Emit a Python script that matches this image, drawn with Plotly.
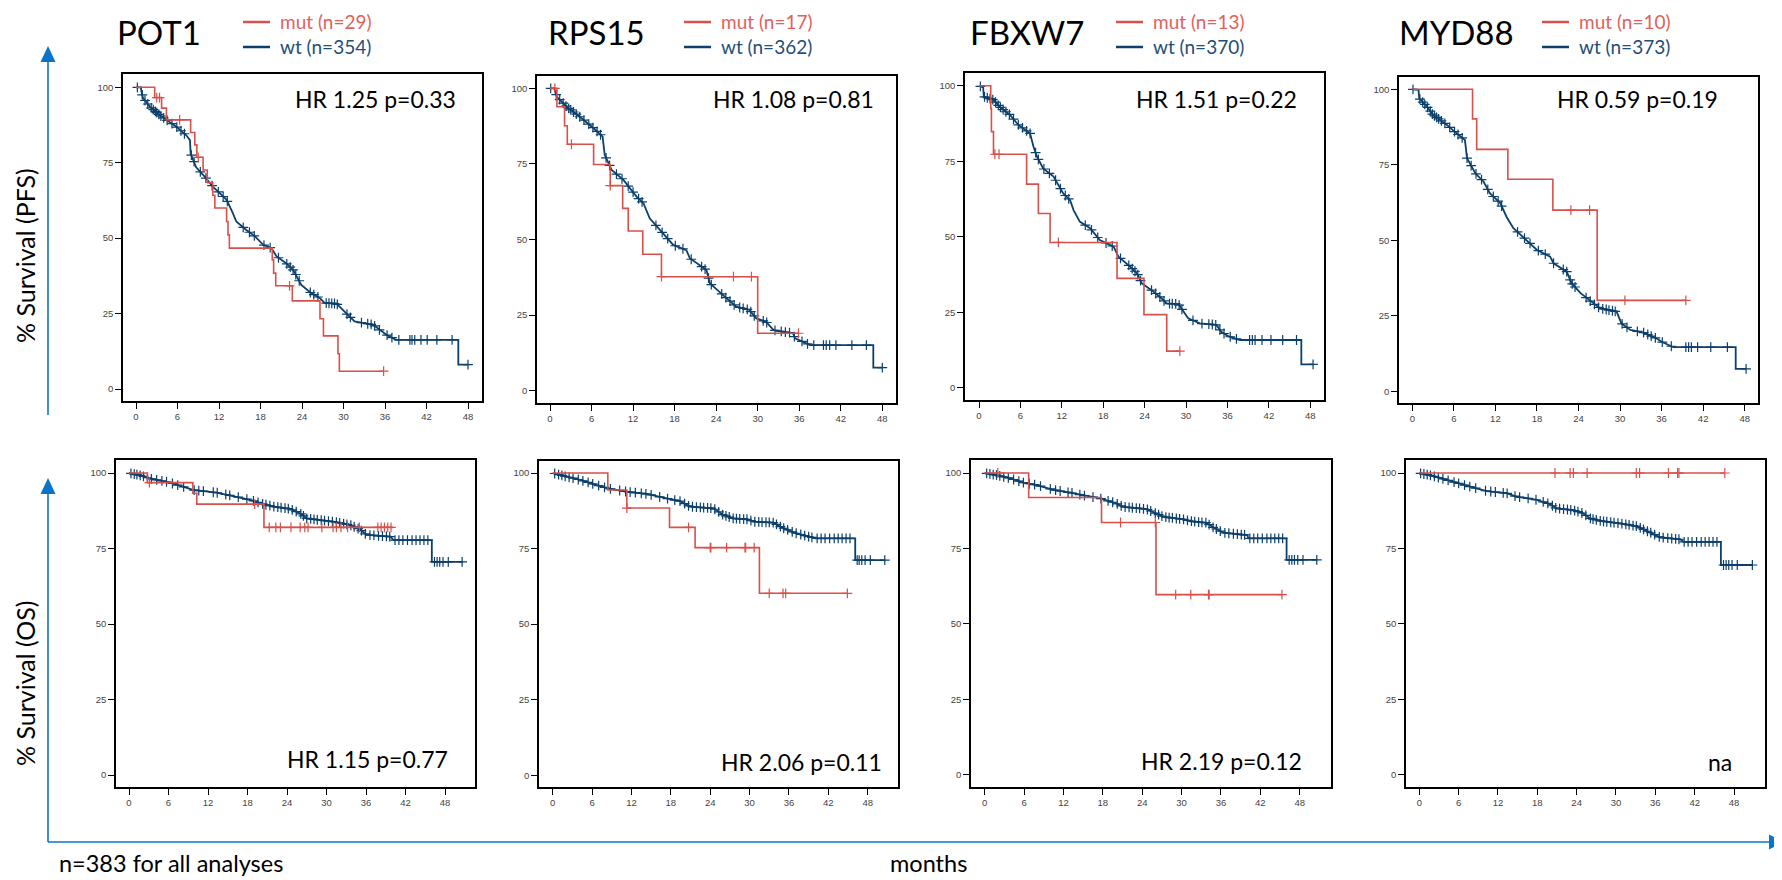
import numpy as np
import plotly.graph_objects as go

W, H = 1782, 880
OFF = 8  # page body margin of the browser
FW, FH = W - OFF, H - OFF

# ---------------- data ----------------
genes = ["POT1", "RPS15", "FBXW7", "MYD88"]
n_mut = [29, 17, 13, 10]
n_wt = [354, 362, 370, 373]
hr_pfs = ["HR 1.25 p=0.33", "HR 1.08 p=0.81", "HR 1.51 p=0.22", "HR 0.59 p=0.19"]
hr_os = ["HR 1.15 p=0.77", "HR 2.06 p=0.11", "HR 2.19 p=0.12", "na"]
x_ticks = [0, 6, 12, 18, 24, 30, 36, 42, 48]
y_ticks = [0, 25, 50, 75, 100]
y_label_pfs = "% Survival (PFS)"
y_label_os = "% Survival (OS)"
x_label = "months"
footnote = "n=383 for all analyses"

# ---- PFS: POT1 ----
pot1_pfs_mut_t = [0, 2.7, 3.7, 4.4, 7.9, 8.5, 8.8, 9.7, 10.3, 11.1, 11.4, 13.1, 13.3, 13.5, 19.7, 19.9, 20.2, 22.6, 26.6, 27.1, 29.2, 29.4, 35.8]
pot1_pfs_mut_s = [100, 96.6, 93.1, 89.2, 85.0, 80.9, 76.8, 72.6, 68.4, 64.2, 60.0, 55.5, 51.1, 46.7, 42.8, 38.4, 34.2, 29.2, 23.3, 17.6, 11.7, 5.9, 5.9]
pot1_pfs_mut_c = [3.0, 3.4, 6.3, 9.0, 22.2, 35.8]
pot1_pfs_wt_t = [0, 0.7, 0.8, 1.0, 2.0, 3.4, 4.4, 5.8, 7.3, 7.8, 7.9, 8.3, 8.7, 9.7, 11.1, 12.1, 13.1, 14.0, 14.5, 15.9, 17.2, 18.4, 19.6, 20.3, 21.7, 22.7, 23.4, 23.9, 25.3, 26.6, 27.3, 29.0, 29.9, 30.6, 31.6, 34.3, 35.2, 36.2, 37.6, 46.6, 46.6, 48.0]
pot1_pfs_wt_s = [100, 100, 98.5, 96.5, 93.6, 90.8, 89.2, 87.0, 84.0, 82.5, 78.0, 76.0, 73.5, 71.0, 67.1, 64.9, 62.7, 58.3, 55.5, 52.8, 50.6, 47.8, 46.7, 44.0, 41.7, 39.5, 36.8, 34.5, 31.8, 30.1, 28.5, 28.3, 26.2, 24.6, 22.4, 21.3, 19.6, 18.0, 16.3, 16.3, 8.1, 8.1]
pot1_pfs_wt_c = [0.2, 0.9, 1.3, 1.7, 2.2, 2.5, 2.8, 3.0, 3.3, 3.6, 4.0, 4.5, 5.2, 5.9, 6.5, 7.0, 8.0, 8.4, 9.3, 10.1, 11.0, 11.9, 12.6, 13.2, 15.5, 16.4, 17.1, 18.5, 19.4, 20.6, 21.8, 22.3, 22.7, 23.1, 23.6, 25.2, 25.7, 26.3, 27.5, 27.9, 28.3, 28.7, 29.1, 30.5, 31.0, 32.6, 33.5, 34.0, 34.5, 35.2, 36.3, 37.0, 38.0, 39.6, 39.9, 40.3, 41.2, 42.1, 43.5, 45.7, 48.0]

# ---- PFS: RPS15 ----
rps15_pfs_mut_t = [0, 1.0, 2.1, 2.5, 6.3, 8.7, 10.5, 11.3, 13.4, 16.1, 30.0, 35.9]
rps15_pfs_mut_s = [100, 93.9, 87.6, 81.5, 74.8, 67.8, 60.3, 52.8, 45.1, 37.7, 19.0, 19.0]
rps15_pfs_mut_c = [0.7, 3.1, 8.7, 16.1, 26.5, 29.1, 35.9]
rps15_pfs_wt_t = [0, 0.6, 1.0, 2.4, 4.3, 6.3, 7.6, 7.9, 8.9, 10.6, 12.5, 13.5, 14.4, 15.9, 17.8, 19.7, 20.2, 22.6, 23.1, 25.0, 26.9, 28.8, 29.8, 31.2, 32.3, 35.1, 35.4, 37.6, 46.7, 46.7, 48.0]
rps15_pfs_wt_s = [100, 100, 97.2, 93.9, 90.6, 86.8, 84.0, 78.0, 73.0, 69.7, 64.2, 62.0, 57.0, 53.1, 48.2, 46.5, 43.8, 39.9, 35.5, 31.6, 27.8, 26.7, 23.9, 22.8, 20.0, 19.0, 17.3, 15.1, 15.1, 7.6, 7.6]
rps15_pfs_wt_c = [0.1, 0.9, 1.4, 1.9, 2.3, 2.7, 3.0, 3.4, 3.8, 4.3, 4.9, 5.6, 6.2, 6.8, 7.3, 8.1, 8.6, 9.6, 10.4, 11.3, 12.0, 12.8, 13.3, 15.3, 16.2, 17.0, 18.1, 19.2, 20.4, 21.9, 22.4, 22.9, 23.3, 24.8, 25.4, 26.0, 26.6, 27.4, 27.9, 28.5, 29.0, 29.5, 30.8, 31.3, 32.5, 33.4, 34.0, 34.6, 35.3, 36.4, 37.2, 38.1, 39.5, 39.9, 40.4, 41.3, 43.6, 45.7, 48.0]

# ---- PFS: FBXW7 ----
fbxw7_pfs_mut_t = [0, 1.7, 1.8, 2.1, 6.9, 8.6, 10.3, 20.0, 23.9, 27.2, 29.1]
fbxw7_pfs_mut_s = [100, 92.5, 84.8, 77.3, 67.4, 57.7, 48.1, 36.2, 24.2, 12.1, 12.1]
fbxw7_pfs_mut_c = [2.3, 2.9, 11.5, 29.1]
fbxw7_pfs_wt_t = [0, 0.6, 0.7, 2.1, 3.0, 4.5, 5.7, 7.4, 7.9, 8.4, 9.3, 10.8, 12.2, 13.2, 13.7, 14.6, 16.1, 17.5, 19.5, 20.2, 21.9, 22.9, 23.6, 25.0, 26.2, 27.2, 28.9, 29.6, 30.3, 32.0, 34.4, 35.1, 36.1, 37.8, 46.7, 46.7, 48.4]
fbxw7_pfs_wt_s = [100, 99.4, 96.4, 95.3, 93.0, 90.3, 87.0, 84.2, 79.8, 76.5, 72.6, 69.9, 64.3, 62.1, 58.8, 55.0, 52.8, 48.9, 46.7, 43.4, 40.1, 37.9, 34.5, 32.3, 30.1, 27.9, 27.7, 25.2, 23.0, 21.3, 20.8, 18.5, 17.1, 15.8, 15.8, 7.7, 7.7]
fbxw7_pfs_wt_c = [0.2, 0.8, 1.2, 1.6, 2.0, 2.4, 2.8, 3.1, 3.5, 3.9, 4.4, 5.0, 5.7, 6.3, 6.9, 7.4, 8.2, 8.6, 9.4, 10.2, 11.1, 11.8, 12.5, 13.0, 15.4, 16.3, 17.2, 18.4, 19.3, 20.5, 21.7, 22.2, 22.6, 23.0, 23.4, 25.0, 25.6, 26.2, 26.8, 27.6, 28.0, 28.5, 29.0, 29.4, 31.0, 32.3, 33.3, 33.8, 34.3, 34.9, 35.5, 36.4, 37.3, 39.2, 39.6, 40.0, 41.0, 42.3, 44.0, 46.0, 48.4]

# ---- PFS: MYD88 ----
myd88_pfs_mut_t = [0, 8.7, 9.3, 13.8, 20.3, 26.7, 39.5]
myd88_pfs_mut_s = [100, 90.2, 80.1, 70.2, 60.0, 30.1, 30.1]
myd88_pfs_mut_c = [22.9, 25.6, 30.7, 39.5]
myd88_pfs_wt_t = [0, 0.9, 1.0, 2.1, 3.0, 5.0, 6.4, 7.6, 7.9, 9.1, 10.3, 11.2, 12.7, 13.6, 14.6, 16.5, 18.0, 19.9, 20.4, 22.3, 23.0, 24.3, 26.1, 27.1, 29.5, 30.2, 31.5, 33.4, 35.3, 36.0, 37.7, 46.7, 46.7, 48.2]
myd88_pfs_wt_s = [100, 99.8, 97.0, 94.3, 91.5, 88.2, 85.4, 83.2, 77.2, 72.2, 69.4, 65.6, 62.3, 57.8, 54.0, 50.1, 46.8, 44.6, 42.4, 39.6, 35.8, 32.5, 29.1, 27.5, 26.4, 22.5, 20.3, 19.4, 17.5, 16.4, 14.6, 14.6, 7.4, 7.4]
myd88_pfs_wt_c = [0.1, 1.1, 1.5, 1.8, 2.2, 2.6, 2.9, 3.2, 3.5, 3.8, 4.2, 4.7, 5.4, 6.1, 6.6, 7.2, 7.9, 8.5, 9.2, 10.0, 10.9, 11.7, 12.4, 12.9, 15.2, 16.2, 17.0, 18.2, 19.2, 20.4, 21.8, 22.3, 22.8, 23.1, 23.5, 25.1, 25.7, 26.3, 26.9, 27.5, 28.0, 28.4, 28.9, 29.3, 30.3, 31.0, 32.5, 33.4, 34.0, 34.5, 35.1, 36.1, 37.4, 39.5, 39.9, 40.3, 41.2, 43.1, 45.5, 48.2]

# ---- OS: POT1 ----
pot1_os_mut_t = [0, 2.8, 9.7, 10.3, 20.5, 40.1]
pot1_os_mut_s = [100, 96.8, 93.3, 89.7, 82.0, 82.0]
pot1_os_mut_c = [3.1, 19.1, 21.3, 22.3, 23.0, 24.6, 26.0, 26.7, 27.2, 29.3, 31.0, 31.5, 32.2, 33.2, 35.0, 37.8, 38.3, 38.8, 39.3, 39.8]
pot1_os_wt_t = [0, 1.6, 3.1, 5.7, 8.2, 9.7, 13.3, 15.8, 18.4, 20.4, 21.9, 24.5, 26.0, 27.0, 29.0, 31.0, 33.6, 35.1, 36.1, 39.7, 40.2, 46.0, 46.0, 50.6]
pot1_os_wt_s = [100, 99.3, 98.2, 97.1, 95.5, 94.4, 93.5, 92.4, 91.1, 89.7, 88.9, 88.1, 86.6, 85.0, 84.4, 83.9, 82.8, 81.3, 79.5, 78.9, 77.8, 77.8, 70.6, 70.6]
pot1_os_wt_c = [0.3, 0.8, 1.2, 1.7, 2.2, 2.8, 3.4, 4.2, 5.0, 5.7, 6.6, 7.4, 8.3, 9.9, 10.6, 11.3, 12.8, 13.4, 14.7, 15.3, 16.6, 17.9, 18.9, 19.6, 20.3, 20.8, 21.4, 22.0, 22.6, 23.1, 23.7, 24.2, 24.8, 25.4, 26.1, 26.5, 27.0, 27.6, 28.1, 28.6, 29.2, 29.7, 30.3, 30.9, 31.5, 32.0, 32.6, 33.1, 33.7, 34.2, 34.8, 35.3, 35.9, 36.6, 37.2, 37.9, 38.5, 39.1, 39.6, 40.4, 41.0, 41.6, 42.3, 43.0, 43.6, 44.2, 44.8, 45.4, 46.4, 46.8, 47.2, 47.7, 48.5, 50.6]

# ---- OS: RPS15 ----
rps15_os_mut_t = [0, 8.4, 11.3, 17.8, 21.7, 31.5, 44.9]
rps15_os_mut_s = [100, 94.4, 88.4, 82.0, 75.3, 60.2, 60.2]
rps15_os_mut_c = [11.3, 20.7, 24.0, 24.1, 26.5, 29.3, 29.4, 30.7, 33.0, 35.1, 35.5, 44.9]
rps15_os_wt_t = [0, 2.1, 4.2, 6.7, 8.4, 11.3, 14.3, 17.4, 19.4, 20.9, 24.5, 26.0, 27.5, 29.6, 30.6, 33.6, 34.9, 36.4, 37.2, 40.0, 46.1, 46.1, 50.6]
rps15_os_wt_s = [100, 98.8, 97.7, 96.0, 94.9, 93.8, 93.1, 91.6, 90.7, 88.9, 88.3, 86.1, 85.0, 84.7, 83.9, 83.6, 82.0, 80.6, 80.0, 78.4, 78.4, 71.2, 71.2]
rps15_os_wt_c = [0.3, 0.9, 1.4, 1.9, 2.5, 3.1, 3.9, 4.6, 5.4, 6.1, 7.0, 7.9, 8.8, 10.2, 11.1, 11.8, 12.6, 13.5, 14.2, 15.0, 16.3, 17.5, 18.6, 19.4, 20.1, 20.7, 21.3, 21.9, 22.5, 23.0, 23.6, 24.1, 24.7, 25.3, 25.9, 26.4, 26.9, 27.5, 28.0, 28.5, 29.1, 29.6, 30.2, 30.8, 31.4, 31.9, 32.5, 33.0, 33.6, 34.1, 34.7, 35.2, 35.8, 36.5, 37.1, 37.8, 38.4, 39.0, 39.5, 40.3, 40.9, 41.5, 42.2, 42.9, 43.5, 44.1, 44.7, 45.3, 46.4, 46.7, 47.1, 47.6, 48.4, 50.6]

# ---- OS: FBXW7 ----
fbxw7_os_mut_t = [0, 6.7, 17.8, 26.1, 45.3]
fbxw7_os_mut_s = [100, 91.9, 83.6, 59.7, 59.7]
fbxw7_os_mut_c = [2.0, 20.7, 26.0, 29.1, 31.4, 34.1, 34.2, 45.3]
fbxw7_os_wt_t = [0, 1.8, 3.9, 5.9, 7.9, 10.5, 13.0, 15.5, 17.6, 20.1, 21.1, 24.7, 27.2, 30.3, 31.8, 33.8, 34.8, 36.4, 40.0, 40.2, 46.0, 46.0, 50.6]
fbxw7_os_wt_s = [100, 99.3, 98.2, 96.8, 96.0, 94.4, 93.5, 92.4, 91.6, 89.9, 88.8, 88.0, 85.5, 84.6, 83.9, 83.5, 82.0, 80.2, 79.4, 78.3, 78.3, 71.2, 71.2]
fbxw7_os_wt_c = [0.3, 0.8, 1.3, 1.8, 2.3, 2.9, 3.6, 4.4, 5.2, 5.9, 6.8, 7.6, 8.5, 10.0, 10.8, 11.5, 12.7, 13.3, 14.5, 15.2, 16.5, 17.7, 18.8, 19.5, 20.2, 20.8, 21.4, 22.0, 22.5, 23.1, 23.6, 24.2, 24.8, 25.3, 26.0, 26.5, 27.0, 27.6, 28.1, 28.6, 29.2, 29.7, 30.3, 30.9, 31.5, 32.0, 32.6, 33.1, 33.7, 34.2, 34.8, 35.3, 35.9, 36.6, 37.2, 37.9, 38.5, 39.1, 39.6, 40.4, 41.0, 41.6, 42.3, 43.0, 43.6, 44.2, 44.8, 45.4, 46.4, 46.8, 47.2, 47.7, 48.5, 50.6]

# ---- OS: MYD88 ----
myd88_os_mut_t = [0, 46.6]
myd88_os_mut_s = [100, 100]
myd88_os_mut_c = [20.7, 23.0, 23.5, 25.6, 33.1, 33.6, 38.0, 39.4, 39.6, 46.6]
myd88_os_wt_t = [0, 2.1, 4.2, 6.2, 8.7, 10.3, 13.3, 14.8, 17.9, 19.9, 20.9, 23.5, 25.0, 26.0, 27.6, 30.6, 33.1, 34.2, 35.7, 36.7, 39.8, 40.3, 46.0, 46.0, 50.8]
myd88_os_wt_s = [100, 99.0, 97.7, 96.4, 94.9, 94.0, 93.3, 92.2, 91.1, 89.7, 88.3, 87.7, 86.6, 85.0, 84.1, 83.3, 82.4, 81.3, 79.8, 78.7, 78.0, 77.2, 77.2, 69.5, 69.5]
myd88_os_wt_c = [0.2, 0.7, 1.2, 1.7, 2.3, 2.9, 3.6, 4.4, 5.3, 6.0, 6.9, 7.7, 8.6, 10.1, 10.9, 11.6, 12.8, 13.4, 14.6, 15.3, 16.6, 17.8, 18.9, 19.6, 20.3, 20.8, 21.4, 22.0, 22.6, 23.1, 23.7, 24.2, 24.8, 25.4, 26.1, 26.5, 27.0, 27.6, 28.1, 28.6, 29.2, 29.7, 30.3, 30.9, 31.5, 32.0, 32.6, 33.1, 33.7, 34.2, 34.8, 35.3, 35.9, 36.6, 37.2, 37.9, 38.5, 39.1, 39.6, 40.4, 41.0, 41.6, 42.3, 43.0, 43.6, 44.2, 44.8, 45.4, 46.4, 46.8, 47.2, 47.7, 48.5, 50.8]

pfs_data = [
    (pot1_pfs_mut_t, pot1_pfs_mut_s, pot1_pfs_mut_c, pot1_pfs_wt_t, pot1_pfs_wt_s, pot1_pfs_wt_c),
    (rps15_pfs_mut_t, rps15_pfs_mut_s, rps15_pfs_mut_c, rps15_pfs_wt_t, rps15_pfs_wt_s, rps15_pfs_wt_c),
    (fbxw7_pfs_mut_t, fbxw7_pfs_mut_s, fbxw7_pfs_mut_c, fbxw7_pfs_wt_t, fbxw7_pfs_wt_s, fbxw7_pfs_wt_c),
    (myd88_pfs_mut_t, myd88_pfs_mut_s, myd88_pfs_mut_c, myd88_pfs_wt_t, myd88_pfs_wt_s, myd88_pfs_wt_c),
]
os_data = [
    (pot1_os_mut_t, pot1_os_mut_s, pot1_os_mut_c, pot1_os_wt_t, pot1_os_wt_s, pot1_os_wt_c),
    (rps15_os_mut_t, rps15_os_mut_s, rps15_os_mut_c, rps15_os_wt_t, rps15_os_wt_s, rps15_os_wt_c),
    (fbxw7_os_mut_t, fbxw7_os_mut_s, fbxw7_os_mut_c, fbxw7_os_wt_t, fbxw7_os_wt_s, fbxw7_os_wt_c),
    (myd88_os_mut_t, myd88_os_mut_s, myd88_os_mut_c, myd88_os_wt_t, myd88_os_wt_s, myd88_os_wt_c),
]

# ---------------- styling / layout geometry (page pixels) ----------------
RED = "#D9504A"
NAVY = "#0B3F6C"
RED_TXT = "#E0625C"
NAVY_TXT = "#1F4E79"
BLUE_ARROW = "#0B74C8"
FONT = "Lato"

# box (left, top, right, bottom), px of x=0, x=48, y=100, y=0
geom_top = [
    ((123, 74, 482, 401), 136, 468, 87.3, 389),
    ((537, 76, 896, 403), 550, 882.3, 88.3, 390.7),
    ((965, 73, 1324, 400), 979, 1310.3, 85.7, 387.7),
    ((1399, 77, 1758, 403), 1412.3, 1744.7, 89.3, 391.3),
]
geom_bot = [
    ((116, 460, 475, 787), 129, 445, 473, 775),
    ((539, 461, 898, 787), 552.7, 867.7, 473, 775.3),
    ((971, 460, 1331, 787), 984.7, 1299.7, 473, 774.7),
    ((1406, 460, 1765, 787), 1419.3, 1734, 473, 774.7),
]
title_pos = [(115, 32), (546, 32), (968, 32), (1397, 32)]
legend_pos = [(243, 22), (684, 22), (1116, 22), (1542, 22)]
legend_gap = 25
hr_top_pos = [(458, 99), (876, 99), (1299, 99), (1720, 99)]
hr_bot_pos = [(450, 759), (884, 762), (1304, 761), (1734, 762)]


def px(x):
    return (x - OFF) / FW


def py(y):
    return 1 - (y - OFF) / FH


def step_value(t, s, tc):
    t = np.asarray(t)
    s = np.asarray(s)
    idx = np.searchsorted(t, tc, side="right") - 1
    idx = np.clip(idx, 0, len(s) - 1)
    return s[idx]


def line_value(t, s, tc):
    t = np.asarray(t, dtype=float)
    s = np.asarray(s, dtype=float)
    out = []
    for c in tc:
        j = np.searchsorted(t, c, side="right") - 1
        j = min(max(j, 0), len(t) - 1)
        if j >= len(t) - 1 or t[j + 1] == t[j]:
            out.append(s[j])
        else:
            f = (c - t[j]) / (t[j + 1] - t[j])
            out.append(s[j] + f * (s[j + 1] - s[j]))
    return np.array(out)


fig = go.Figure()
annotations = []
shapes = []

panels = []
for i in range(4):
    panels.append((geom_top[i], pfs_data[i]))
for i in range(4):
    panels.append((geom_bot[i], os_data[i]))

for k, (geom, data) in enumerate(panels):
    (bl, bt, br, bb), x0p, x48p, y100p, y0p = geom
    ppm = (x48p - x0p) / 48.0
    ppu = (y0p - y100p) / 100.0
    xr = [(bl - x0p) / ppm, (br - x0p) / ppm]
    yr = [(y0p - bb) / ppu, (y0p - bt) / ppu]
    ax = "" if k == 0 else str(k + 1)
    xa, ya = "x" + ax, "y" + ax
    mt, ms, mc, wt_t, wt_s, wc = data

    fig.add_trace(go.Scatter(x=wt_t, y=wt_s, mode="lines", line=dict(color=NAVY, width=1.8),
                             xaxis=xa, yaxis=ya, showlegend=False, hoverinfo="skip"))
    fig.add_trace(go.Scatter(x=wc, y=line_value(wt_t, wt_s, wc), mode="markers",
                             marker=dict(symbol="cross-thin", size=7, line=dict(color=NAVY, width=1.2)),
                             xaxis=xa, yaxis=ya, showlegend=False, hoverinfo="skip"))
    fig.add_trace(go.Scatter(x=mt, y=ms, mode="lines", line=dict(color=RED, width=1.6, shape="hv"),
                             xaxis=xa, yaxis=ya, showlegend=False, hoverinfo="skip"))
    fig.add_trace(go.Scatter(x=mc, y=step_value(mt, ms, mc), mode="markers",
                             marker=dict(symbol="cross-thin", size=7, line=dict(color=RED, width=1.2)),
                             xaxis=xa, yaxis=ya, showlegend=False, hoverinfo="skip"))

    common = dict(showgrid=False, zeroline=False, showline=True, mirror=True, linecolor="black",
                  linewidth=1.5, ticks="outside", ticklen=6, tickwidth=1, tickcolor="black",
                  tickfont=dict(family="Liberation Sans", size=9.5, color="#444"))
    fig.layout["xaxis" + ax] = dict(domain=[px(bl), px(br)], range=xr, anchor=ya,
                                    tickvals=x_ticks, ticktext=[str(v) for v in x_ticks], **common)
    fig.layout["yaxis" + ax] = dict(domain=[py(bb), py(bt)], range=yr, anchor=xa,
                                    tickvals=y_ticks, ticktext=[str(v) for v in y_ticks], **common)

for i in range(4):
    tx, ty = title_pos[i]
    annotations.append(dict(x=px(tx), y=py(ty), xref="paper", yref="paper", text=genes[i],
                            showarrow=False, xanchor="left", yanchor="middle",
                            font=dict(family=FONT, size=33, color="black")))
    lx, ly = legend_pos[i]
    for j, (lab, col, tcol) in enumerate([(f"mut (n={n_mut[i]})", RED, RED_TXT),
                                          (f"wt (n={n_wt[i]})", NAVY, NAVY_TXT)]):
        yy = ly + j * legend_gap
        shapes.append(dict(type="line", xref="paper", yref="paper", x0=px(lx), x1=px(lx + 27),
                           y0=py(yy), y1=py(yy), line=dict(color=col, width=2.5)))
        annotations.append(dict(x=px(lx + 36), y=py(yy), xref="paper", yref="paper", text=lab,
                                showarrow=False, xanchor="left", yanchor="middle", borderpad=0,
                                font=dict(family=FONT, size=19, color=tcol)))
    hx, hy = hr_top_pos[i]
    annotations.append(dict(x=px(hx), y=py(hy), xref="paper", yref="paper", text=hr_pfs[i],
                            showarrow=False, xanchor="right", yanchor="middle",
                            font=dict(family=FONT, size=23, color="black")))
    hx, hy = hr_bot_pos[i]
    annotations.append(dict(x=px(hx), y=py(hy), xref="paper", yref="paper", text=hr_os[i],
                            showarrow=False, xanchor="right", yanchor="middle",
                            font=dict(family=FONT, size=23, color="black")))

annotations.append(dict(x=px(25), y=py(256), xref="paper", yref="paper", text=y_label_pfs,
                        showarrow=False, textangle=-90, xanchor="center", yanchor="middle",
                        font=dict(family=FONT, size=25, color="black")))
annotations.append(dict(x=px(25), y=py(684), xref="paper", yref="paper", text=y_label_os,
                        showarrow=False, textangle=-90, xanchor="center", yanchor="middle",
                        font=dict(family=FONT, size=25, color="black")))
annotations.append(dict(x=px(57), y=py(863), xref="paper", yref="paper", text=footnote,
                        showarrow=False, xanchor="left", yanchor="middle",
                        font=dict(family=FONT, size=23.5, color="black")))
annotations.append(dict(x=px(928), y=py(863), xref="paper", yref="paper", text=x_label,
                        showarrow=False, xanchor="center", yanchor="middle",
                        font=dict(family=FONT, size=23.5, color="black")))


def tri(pts):
    d = "M " + " L ".join(f"{px(a)},{py(b)}" for a, b in pts) + " Z"
    return dict(type="path", xref="paper", yref="paper", path=d,
                fillcolor=BLUE_ARROW, line=dict(color=BLUE_ARROW, width=0))


shapes.append(dict(type="line", xref="paper", yref="paper", x0=px(48), x1=px(48), y0=py(415), y1=py(58),
                   line=dict(color=BLUE_ARROW, width=1.6)))
shapes.append(tri([(48, 46), (40.5, 62), (55.5, 62)]))
shapes.append(dict(type="line", xref="paper", yref="paper", x0=px(48), x1=px(48), y0=py(842), y1=py(490),
                   line=dict(color=BLUE_ARROW, width=1.6)))
shapes.append(tri([(48, 478), (40.5, 494), (55.5, 494)]))
shapes.append(dict(type="line", xref="paper", yref="paper", x0=px(48), x1=px(1772), y0=py(842), y1=py(842),
                   line=dict(color=BLUE_ARROW, width=1.6)))
shapes.append(tri([(1784, 842), (1769, 834.5), (1769, 849.5)]))

fig.update_layout(width=FW, height=FH, autosize=False, margin=dict(l=0, r=0, t=0, b=0),
                  paper_bgcolor="white", plot_bgcolor="white", showlegend=False,
                  annotations=annotations, shapes=shapes)

fig.write_html("out.html")
